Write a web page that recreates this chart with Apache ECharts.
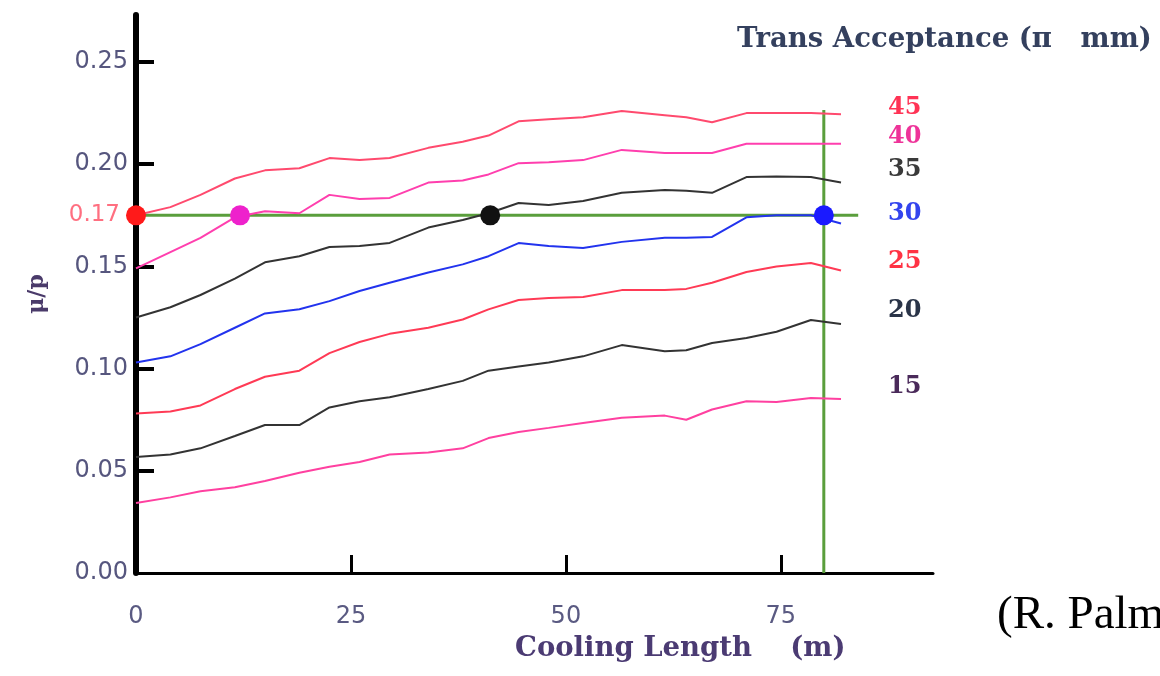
<!DOCTYPE html>
<html><head><meta charset="utf-8">
<script src="https://cdn.jsdelivr.net/npm/echarts@6/dist/echarts.min.js"></script>
<style>html,body{margin:0;padding:0;background:#fff}#c{width:1160px;height:676px}</style>
</head><body><div id="c"></div>
<script>
// Cooling length (m) sample positions shared by all curves
const lengths = [0,4,7.5,11.5,15,19,22.5,26,29.5,34,38,41,44.5,48,52,56.5,61.5,64,67,71,74.5,78.5,82];
// mu/p for each transverse acceptance (pi mm)
const acc45 = [0.175,0.179,0.185,0.193,0.197,0.198,0.203,0.202,0.203,0.208,0.211,0.214,0.221,0.222,0.223,0.226,0.224,0.223,0.2205,0.225,0.225,0.225,0.2245];
const acc40 = [0.149,0.157,0.164,0.174,0.177,0.176,0.185,0.183,0.1835,0.191,0.192,0.195,0.2005,0.201,0.202,0.207,0.2055,0.2055,0.2055,0.210,0.210,0.210,0.210];
const acc35 = [0.125,0.130,0.136,0.144,0.152,0.155,0.1595,0.160,0.1615,0.169,0.1727,0.176,0.181,0.180,0.182,0.186,0.1874,0.187,0.186,0.1937,0.194,0.1937,0.191];
const acc30 = [0.103,0.106,0.112,0.120,0.127,0.129,0.133,0.138,0.142,0.147,0.151,0.155,0.1614,0.160,0.159,0.162,0.164,0.164,0.1644,0.174,0.175,0.175,0.171];
const acc25 = [0.078,0.079,0.082,0.090,0.096,0.099,0.1076,0.113,0.117,0.120,0.124,0.129,0.1336,0.1345,0.135,0.1384,0.1384,0.139,0.142,0.1473,0.150,0.1517,0.148];
const acc20 = [0.0568,0.058,0.061,0.067,0.0724,0.0724,0.081,0.084,0.086,0.090,0.094,0.099,0.101,0.103,0.106,0.1115,0.1085,0.109,0.1125,0.115,0.118,0.1238,0.1218];
const acc15 = [0.0342,0.037,0.040,0.042,0.045,0.049,0.052,0.0543,0.058,0.059,0.061,0.066,0.069,0.071,0.0734,0.076,0.077,0.075,0.080,0.084,0.0837,0.0856,0.0851];
const acceptanceNames = ['45','40','35','30','25','20','15'];
// axis ticks / labels
const xTickValues = [25,50,75];
const xLabelValues = [0,25,50,75];
const yTickValues = [0.05,0.10,0.15,0.20,0.25];
const yLabelValues = [0,0.05,0.10,0.15,0.20,0.25];
// reference level and markers
const refMu = 0.175;
const refMuLabel = '0.17';
const refLength = 80;
const vLineTop = 0.2265;
const hLineEnd = 84;
const dotLengths = [0, 12.1, 41.2, 80];

const curves = [acc45, acc40, acc35, acc30, acc25, acc20, acc15];
const lineColors = ['#ff4a6e','#ff3fae','#333333','#2233ee','#ff3a55','#333333','#ff40a0'];
const labelColors = ['#ff3355','#ee3399','#3a3a3a','#3344ee','#ff3344','#2a3448','#4a2a5a'];
const labelDy = [-6,-7,-13,-10,-9,-13,-12];
const dotColors = ['#ff1a1a','#ee22cc','#111111','#1a1aff'];

const chart = echarts.init(document.getElementById('c'));
const series = [];
series.push({
  type:'line', name:'hline', data:[[0, refMu],[hLineEnd, refMu]], symbol:'none', z:1,
  lineStyle:{color:'#5a9e3c', width:3}, silent:true
});
series.push({
  type:'line', name:'vline', data:[[refLength, 0],[refLength, vLineTop]], symbol:'none', z:1,
  lineStyle:{color:'#5a9e3c', width:3}, silent:true
});
curves.forEach((arr, i) => {
  series.push({
    type:'line', name: acceptanceNames[i], z:2,
    data: lengths.map((x, j) => [x, arr[j]]),
    symbol:'none', lineStyle:{color: lineColors[i], width:2},
    endLabel:{show:true, formatter: acceptanceNames[i], distance:47, offset:[0, labelDy[i]],
      fontFamily:'DejaVu Serif', fontWeight:'bold', fontSize:24, color: labelColors[i]}
  });
});
series.push({
  type:'scatter', z:5, symbolSize:20,
  data: dotLengths.map((x, i) => ({value:[x, refMu], itemStyle:{color: dotColors[i], opacity:1}}))
});

chart.setOption({
  animation:false,
  backgroundColor:'#fff',
  grid:{left:136, top:15, width:797, height:558, containLabel:false},
  xAxis:{
    type:'value', min:0, max:92.7,
    axisLine:{show:true, onZero:false, lineStyle:{color:'#000', width:3}},
    axisTick:{show:true, inside:true, length:18, customValues:xTickValues, lineStyle:{color:'#000', width:3}},
    axisLabel:{customValues:xLabelValues, margin:32, fontSize:24, fontFamily:'DejaVu Sans', color:'#5a5a82'},
    splitLine:{show:false}
  },
  yAxis:{
    type:'value', min:0, max:0.273,
    name:'μ/p', nameLocation:'middle', nameRotate:90, nameGap:88,
    nameTextStyle:{fontFamily:'DejaVu Serif', fontWeight:'bold', fontSize:22, color:'#4a3a6a'},
    axisLine:{show:true, onZero:false, lineStyle:{color:'#000', width:6}},
    axisTick:{show:true, inside:true, length:18, customValues:yTickValues, lineStyle:{color:'#000', width:4}},
    axisLabel:{customValues: yLabelValues.concat([refMu]), margin:8, fontSize:24, fontFamily:'DejaVu Sans', color:'#56567e',
      formatter: v => Math.abs(v - refMu) < 1e-9 ? '{r|' + refMuLabel + '}' : v.toFixed(2),
      rich:{r:{color:'#ff6f80', fontSize:23, fontFamily:'DejaVu Sans', padding:[0,8,0,0]}}},
    splitLine:{show:false}
  },
  graphic:[
    {type:'text', x:737, y:40, style:{text:'Trans Acceptance (π   mm)', font:'bold 27.5px "DejaVu Serif"', fill:'#34405e', textVerticalAlign:'middle'}},
    {type:'text', x:515, y:649, style:{text:'Cooling Length    (m)', font:'bold 27.5px "DejaVu Serif"', fill:'#4b3b73', textVerticalAlign:'middle'}},
    {type:'text', x:997, y:616, style:{text:'(R. Palmer)', font:'47px "Liberation Serif"', fill:'#000', textVerticalAlign:'middle'}}
  ],
  series: series
});
</script>
</body></html>
